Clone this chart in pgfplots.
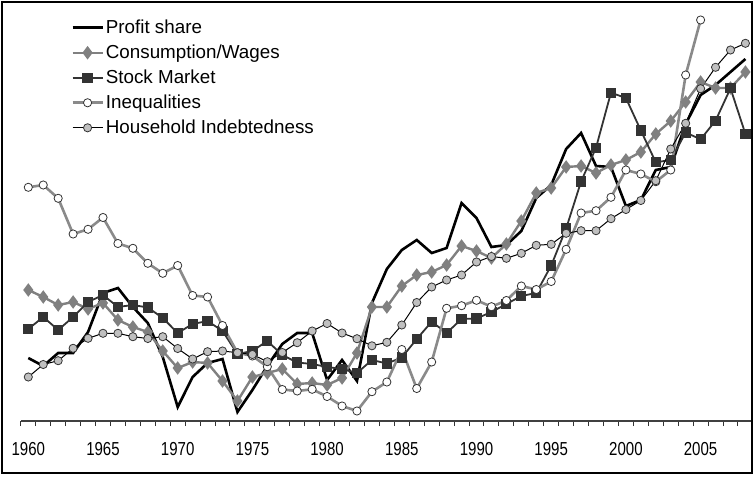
\documentclass[border=0pt]{standalone}
\usepackage{pgfplots}
\pgfplotsset{compat=1.18}
\usepackage{fontspec}
\setmainfont{Liberation Sans}
\usepackage{graphicx}
\definecolor{cons}{HTML}{808080}
\definecolor{stock}{HTML}{333333}
\definecolor{ineq}{HTML}{8A8A8A}
\definecolor{hh}{HTML}{C0C0C0}
\begin{document}
\begin{tikzpicture}
\begin{axis}[
  x=7.47pt, y=0.5pt,
  xmin=1959.5, xmax=2008.5, ymin=0, ymax=418,
  axis x line=bottom, axis y line=none,
  x axis line style={-, line width=0.6pt, color=black!75},
  xtick={1960,1965,...,2005},
  major tick length=0pt,
  minor xtick={1959.5,1960.5,...,2008.5},
  minor tick length=2.6pt,
  tick align=outside,
  tick style={black!80, line width=0.5pt},
  xticklabel={\scalebox{0.8}[1]{\pgfmathprintnumber[assume math mode=true,1000 sep={}]{\tick}}},
  xticklabel style={font=\fontsize{9.4}{10}\selectfont, anchor=north, yshift=-7pt},
  clip=false,
  legend cell align=left,
  legend style={draw=none, fill=none, at={(axis cs:1962.85,404)}, anchor=north west,
    inner sep=0pt, font=\fontsize{9.4}{10.5}\selectfont, row sep=2.2pt, nodes={inner sep=1pt}},
  legend image code/.code={\draw[mark repeat=2,mark phase=2,#1] plot coordinates {(0pt,0pt) (7.5pt,0pt) (15pt,0pt)};},
]
% Profit share
\addplot[black, line width=1.3pt, no markers] coordinates {
(1960,63)(1961,55)(1962,68)(1963,68)(1964,89)(1965,128)(1966,133)(1967,114)(1968,98)(1969,64)
(1970,14)(1971,44)(1972,58)(1973,62)(1974,9)(1975,31)(1976,55)(1977,77)(1978,88)(1979,88)
(1980,41)(1981,61)(1982,40)(1983,118)(1984,152)(1985,171)(1986,181)(1987,168)(1988,173)(1989,218)
(1990,203)(1991,174)(1992,176)(1993,190)(1994,223)(1995,236)(1996,272)(1997,288)(1998,255)(1999,254)
(2000,215)(2001,221)(2002,251)(2003,254)(2004,297)(2005,326)(2006,336)(2007,349)(2008,362)};
\addlegendentry{Profit share}
% Consumption/Wages
\addplot[cons, line width=1.2pt, mark=diamond*, mark size=2.4pt, mark options={fill=cons, draw=cons}] coordinates {
(1960,131)(1961,124)(1962,116)(1963,119)(1964,112)(1965,118)(1966,101)(1967,94)(1968,89)(1969,70)
(1970,53)(1971,59)(1972,58)(1973,40)(1974,20)(1975,44)(1976,48)(1977,52)(1978,37)(1979,38)
(1980,36)(1981,43)(1982,68)(1983,114)(1984,114)(1985,135)(1986,146)(1987,149)(1988,156)(1989,175)
(1990,170)(1991,163)(1992,177)(1993,200)(1994,228)(1995,233)(1996,254)(1997,255)(1998,248)(1999,256)
(2000,261)(2001,269)(2002,287)(2003,300)(2004,319)(2005,339)(2006,333)(2007,333)(2008,349)};
\addlegendentry{Consumption/Wages}
% Stock Market
\addplot[stock, line width=0.9pt, mark=square*, mark size=2.1pt, mark options={fill=stock, draw=stock}] coordinates {
(1960,92)(1961,104)(1962,91)(1963,104)(1964,119)(1965,126)(1966,114)(1967,116)(1968,113.5)(1969,103)
(1970,88)(1971,97)(1972,100)(1973,90)(1974,67)(1975,70)(1976,80)(1977,66)(1978,58.5)(1979,57)
(1980,54)(1981,52)(1982,48)(1983,61)(1984,57.5)(1985,63.5)(1986,82)(1987,99.3)(1988,88)(1989,102)
(1990,102.5)(1991,109)(1992,117)(1993,125)(1994,128)(1995,155.5)(1996,192.5)(1997,239.5)(1998,273.3)(1999,328.3)
(2000,323)(2001,290.5)(2002,258.7)(2003,261)(2004,288.5)(2005,281.7)(2006,300.3)(2007,332.7)(2008,287)};
\addlegendentry{Stock Market}
% Inequalities
\addplot[ineq, line width=1.3pt, mark=*, mark size=2.05pt, mark options={fill=white, draw=black!80, line width=0.4pt}] coordinates {
(1960,233.7)(1961,236)(1962,222.7)(1963,187)(1964,191.7)(1965,203.5)(1966,177.5)(1967,172.7)(1968,157.7)(1969,147.7)
(1970,155.5)(1971,125.5)(1972,124)(1973,95.5)(1974,68.3)(1975,65)(1976,54.3)(1977,31.5)(1978,30)(1979,31.7)
(1980,24.5)(1981,15)(1982,10)(1983,29.3)(1984,39)(1985,71.5)(1986,32.5)(1987,59)(1988,112.7)(1989,115.3)
(1990,120.7)(1991,114.3)(1992,120.5)(1993,135)(1994,131.5)(1995,139.5)(1996,171.7)(1997,208)(1998,210.3)(1999,223.7)
(2000,251)(2001,247)(2002,239.3)(2003,251)(2004,346)(2005,401)};
\addlegendentry{Inequalities}
% Household Indebtedness
\addplot[black, line width=0.5pt, mark=*, mark size=2.05pt, mark options={fill=hh, draw=black!80, line width=0.4pt}] coordinates {
(1960,44)(1961,56.5)(1962,60.3)(1963,72.7)(1964,82.7)(1965,87.7)(1966,87.7)(1967,84.3)(1968,82.5)(1969,84.3)
(1970,72.5)(1971,62)(1972,69.3)(1973,70)(1974,68.3)(1975,66.5)(1976,59.3)(1977,68.5)(1978,78.3)(1979,90)
(1980,97.5)(1981,88)(1982,82.3)(1983,75.2)(1984,78.7)(1985,96)(1986,118.5)(1987,134)(1988,141)(1989,146)
(1990,159)(1991,164.5)(1992,162.7)(1993,167.7)(1994,175.7)(1995,176.7)(1996,187.7)(1997,190.3)(1998,190.3)(1999,202.3)
(2000,211.5)(2001,220.5)(2002,240.3)(2003,272)(2004,297.7)(2005,332.3)(2006,353.7)(2007,371)(2008,377.7)};
\addlegendentry{Household Indebtedness}
\draw[line width=0.9pt] (axis cs:1958.24,-52) rectangle (axis cs:2008.44,419);
\coordinate (bbSW) at (axis cs:1958.106,-55);
\coordinate (bbNE) at (axis cs:2008.574,421);
\end{axis}
\pgfresetboundingbox
\useasboundingbox (bbSW) rectangle (bbNE);
\end{tikzpicture}
\end{document}
